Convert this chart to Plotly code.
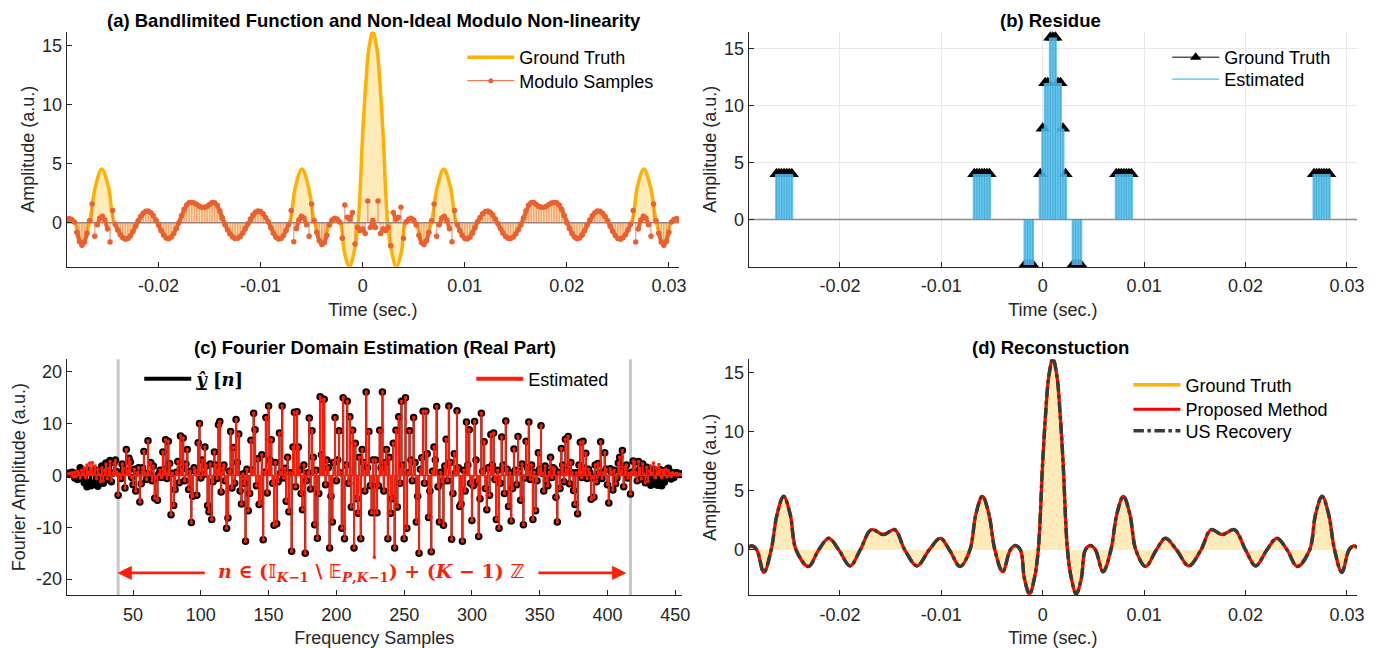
import plotly.graph_objects as go

# ============================ DATA ============================
# (a)/(d) ground-truth bandlimited function: key points read off the curve
gt_t = [-0.0290, -0.0287, -0.0282, -0.0275, -0.02678, -0.0262, -0.02555, -0.0249, -0.02432, -0.0231,
        -0.0221, -0.0211, -0.0201, -0.0190, -0.0180, -0.0169, -0.0157, -0.0146, -0.0136, -0.0124,
        -0.0112, -0.0101, -0.0092, -0.00815, -0.00718, -0.0066, -0.00595, -0.0053, -0.00472, -0.00395,
        -0.0032, -0.0027, -0.0022, -0.0018, -0.0013, -0.0008, -0.00044, 0.0, 0.0003, 0.0006,
        0.0010, 0.0014, 0.0017, 0.0020, 0.00244, 0.0028, 0.0033, 0.0038, 0.0042, 0.0047,
        0.0052, 0.00595, 0.00672, 0.0073, 0.00795, 0.0086, 0.00918, 0.01015, 0.0112, 0.0121,
        0.0132, 0.0144, 0.0156, 0.0166, 0.0177, 0.0189, 0.0200, 0.0210, 0.0221, 0.0231,
        0.0241, 0.0251, 0.02632, 0.0269, 0.02755, 0.0282, 0.02878, 0.0295, 0.0302, 0.0307, 0.0310]
gt_amp = [0.2, 0.35, 0.0, -1.9, 0.0, 3.0, 4.55, 3.0, 0.0, -1.4,
          0.0, 1.0, 0.0, -1.35, 0.0, 1.72, 1.3, 1.72, 0.0, -1.35,
          0.0, 1.0, 0.0, -1.4, 0.0, 3.0, 4.55, 3.0, 0.0, -1.85,
          0.0, 0.37, 0.0, -2.45, -3.73, -2.3, 0.0, 7.5, 11.7, 14.7,
          16.2, 14.7, 11.7, 7.5, 0.0, -2.3, -3.73, -2.45, 0.0, 0.37,
          0.0, -1.85, 0.0, 3.0, 4.55, 3.0, 0.0, -1.4, 0.0, 1.0,
          0.0, -1.35, 0.0, 1.72, 1.3, 1.72, 0.0, -1.35, 0.0, 1.0,
          0.0, -1.4, 0.0, 3.0, 4.55, 3.0, 0.0, -1.9, 0.0, 0.35, 0.2]
# (d) reconstructions coincide with the ground truth
proposed_amp = list(gt_amp)
us_amp = list(gt_amp)

# (a) modulo samples on a uniform grid
samp_t0 = -0.029
samp_dt = 0.00025
mod_samples = [
    0.25, 0.35, 0.28, 0.05, -0.81, -1.59, -1.90, -1.64, -0.89, 0.17,
    1.59, -1.15, -0.18, 0.40, 0.54, 0.22, -0.53, -1.63, 1.04, -0.14,
    -0.61, -1.01, -1.28, -1.40, -1.34, -1.11, -0.75, -0.29, 0.16, 0.52,
    0.81, 0.97, 0.99, 0.85, 0.59, 0.23, -0.20, -0.68, -1.06, -1.29,
    -1.35, -1.22, -0.92, -0.49, 0.00, 0.60, 1.14, 1.51, 1.70, 1.72,
    1.67, 1.55, 1.40, 1.31, 1.31, 1.38, 1.55, 1.71, 1.70, 1.47,
    1.01, 0.40, -0.18, -0.60, -0.95, -1.21, -1.34, -1.32, -1.17, -0.89,
    -0.52, -0.09, 0.31, 0.65, 0.89, 1.00, 0.95, 0.76, 0.45, 0.08,
    -0.43, -0.90, -1.24, -1.39, -1.34, -1.08, -0.67, -0.15, 1.03, -1.62,
    -0.52, 0.22, 0.54, 0.40, -0.18, -1.15, 1.59, 0.17, -0.81, -1.53,
    -1.84, -1.68, -1.07, -0.19, 0.22, 0.37, 0.30, 0.06, -1.31, 1.50,
    0.46, 0.30, 0.86, -1.80, -0.40, -0.67, -0.53, -0.92, 1.85, -0.40,
    0.20,
    -0.40, 1.85, -0.92, -0.53, -0.67, -0.40, -1.96, 0.86, 0.30, 0.46,
    1.31, -1.31, 0.06, 0.30, 0.37, 0.22, -0.19, -1.07, -1.68, -1.84,
    -1.53, -0.81, 0.17, 1.59, -1.15, -0.18, 0.40, 0.54, 0.22, -0.52,
    -1.62, 1.03, -0.15, -0.67, -1.08, -1.34, -1.39, -1.24, -0.90, -0.43,
    0.08, 0.45, 0.76, 0.95, 1.00, 0.89, 0.65, 0.31, -0.09, -0.52,
    -0.89, -1.17, -1.32, -1.34, -1.21, -0.95, -0.60, -0.18, 0.40, 1.01,
    1.47, 1.70, 1.71, 1.55, 1.38, 1.31, 1.31, 1.40, 1.55, 1.67,
    1.72, 1.70, 1.51, 1.14, 0.60, 0.00, -0.49, -0.92, -1.22, -1.35,
    -1.29, -1.06, -0.68, -0.20, 0.23, 0.59, 0.85, 0.99, 0.97, 0.81,
    0.52, 0.16, -0.29, -0.75, -1.11, -1.34, -1.40, -1.28, -1.01, -0.61,
    -0.14, 1.04, -1.63, -0.53, 0.22, 0.54, 0.40, -0.18, -1.15, 1.59,
    0.17, -0.89, -1.64, -1.90, -1.59, -0.81, 0.05, 0.28, 0.35, 0.25]
fold_jump = 0.8   # consecutive samples further apart than this are not joined

# (b) residue: sample indices with non-zero residue and their values
res_idx = [11, 12, 13, 14, 15, 16, 17,
           89, 90, 91, 92, 93, 94, 95,
           109, 110, 111, 112,
           115, 116, 117, 118, 119, 120, 121, 122, 123, 124, 125,
           128, 129, 130, 131,
           145, 146, 147, 148, 149, 150, 151,
           223, 224, 225, 226, 227, 228, 229]
res_true = [4, 4, 4, 4, 4, 4, 4,
            4, 4, 4, 4, 4, 4, 4,
            -4, -4, -4, -4,
            4, 8, 12, 12, 16, 16, 16, 12, 12, 8, 4,
            -4, -4, -4, -4,
            4, 4, 4, 4, 4, 4, 4,
            4, 4, 4, 4, 4, 4, 4]
res_est = list(res_true)

# (c) Fourier-domain samples n = 1..455
yhat_vals = (
    [0.3, 0.4, 0.2, 0.5, 0.6, 0.3, -0.5, 0.4, -0.8, 0.3, 1.5, -0.6, 0.9, -1.4, 0.5, -2.2, 1.0, -1.3, -2.0, 0.6] +
    [-1.7, 1.1, -0.5, -2.1, 0.8, -1.0, 1.8, -1.5, 0.4, 2.4, -0.8, 1.5, 2.9, -1.2, 0.4, 2.5, 3.0, 0.7, -3.8, 0.3] +
    [-0.6, 2.2, 1.4, -2.4, 5.0, 0.8, 3.3, 2.6, -0.4, -1.8, 1.2, -3.0, 0.5, 1.5, -5.1, -1.6, 1.5, 4.6, 0.4, -0.8] +
    [6.7, 0.2, 2.5, -1.0, 1.8, -4.4, -0.5, -4.8, 0.3, 1.0, -0.4, 4.5, 1.2, 6.9, -0.6, 6.6, 2.3, -7.6, 0.4, -5.8] +
    [-2.7, 0.6, 2.7, -1.4, 7.6, 1.2, 7.2, -1.0, 2.2, 5.0, -2.7, 0.8, -9.1, -4.0, 1.5, 1.0, -3.8, 6.3, 10.0, -0.5] +
    [3.0, 0.2, 5.5, 1.8, -5.8, -7.0, 2.2, -8.5, -1.2, 4.5, 2.0, -0.6, 9.8, 10.4, -3.2, 1.4, 2.0, -1.0, -10.2, -8.2] +
    [0.8, 8.5, -2.4, 5.4, -1.5, 10.8, 2.5, 8.0, -3.0, -5.5, 0.3, -1.5, -12.7, 1.2, -6.8, -3.5, 6.8, 1.0, 12.0, 8.8] +
    [-2.0, 3.2, -5.6, -5.4, 4.0, -12.4, 0.6, 11.2, -3.4, 13.4, 3.0, 6.9, -1.5, -9.6, 2.5, -9.3, -1.2, 8.2, 0.5, 13.4] +
    [-0.5, 1.4, -5.0, 3.5, -7.0, 0.5, -14.6, 5.5, 12.2, -2.2, 12.3, 5.5, 1.0, -3.5, -6.6, 2.0, -15.0, -1.0, 0.5, 11.1] +
    [-2.6, 8.6, 3.5, -9.5, 1.0, -12.1, -3.5, 15.2, 4.0, 14.7, 14.7, -1.8, 3.0, 1.5, -14.0, -4.0, -9.0, 2.5, 11.2, -1.0] +
    [3.0, 8.6, 0.5, -10.2, 15.0, -12.2, 2.0, 14.3, -1.5, 11.3, -6.1, 8.7, -14.0, 6.2, -4.5, -7.3, 3.5, -12.2, 5.0, 2.5] +
    [-3.0, 16.1, 1.5, 8.5, -2.0, -7.2, 3.0, -7.2, 3.0, -7.2, -2.0, 8.7, 1.5, 16.1, -3.0, 2.5, 5.0, -12.2, 3.5, -7.3] +
    [-4.5, 6.2, -14.0, 8.7, -6.1, 11.3, -1.5, 14.3, 2.0, -12.2, 15.0, -10.2, 0.5, 8.6, 3.0, -1.0, 11.2, 2.5, -9.0, -4.0] +
    [-15.0, 1.2, 3.4, 12.4, -1.5, 12.4, 4.2, -8.1, -3.0, -14.7, 0.8, 5.5, 3.0, 13.3, -2.2, -9.0, 0.6, -1.2, -9.6, 1.8] +
    [7.0, -1.0, 13.4, 2.5, -12.3, -3.5, 4.2, 0.5, 12.5, 1.5, -6.0, -5.5, -12.7, 1.0, -3.0, 10.3, 2.0, 8.8, -1.5, -8.7] +
    [-2.0, 10.4, 3.0, -1.2, -11.8, -4.5, 12.0, 0.8, 6.5, -2.5, -6.6, 1.5, -3.8, 7.9, 2.0, 8.2, -0.8, -8.5, 1.0, -10.2] +
    [-1.5, 7.4, 2.0, -3.5, 10.5, 1.2, -6.0, 0.5, -8.8, -2.5, 5.1, 1.0, -1.8, 7.5, 0.8, -4.8, 2.2, -9.5, -0.5, 6.6] +
    [1.5, 10.3, -0.8, 2.0, -8.5, 0.6, -6.8, -1.0, 4.4, 1.2, 9.6, 0.4, -3.0, 1.8, -1.0, -2.0, 0.6, 3.5, -0.4, 1.5] +
    [1.2, -4.2, -9.0, 0.6, -2.5, 5.2, 2.0, -1.2, 7.0, 1.0, 7.5, -1.6, 2.5, 0.5, -2.9, -5.6, 0.5, -7.4, 2.0, 6.4] +
    [-0.4, 6.6, 1.4, 4.3, -0.6, 1.2, 0.5, -4.6, -0.4, -4.2, 2.0, -1.2, 2.3, 0.4, 6.5, -0.6, 0.5, 4.4, 1.2, -1.8] +
    [-5.3, 1.3, 0.6, -2.8, 1.0, -1.6, -0.5, 2.4, 3.5, 0.7, 4.8, -2.2, 1.6, 2.0, -0.5, 0.4, -3.6, 0.6, 2.8, 2.6] +
    [0.5, -1.0, 2.7, 1.4, -0.7, 2.2, 0.3, -1.4, 1.6, -1.1, 0.7, -1.9, -0.4, 1.2, -1.6, 0.5, -1.9, -1.2, 1.1, -2.0] +
    [0.6, -1.3, 1.0, -0.5, 1.4, 0.2, -0.7, 0.5, -0.4, 0.3, 0.5, 0.4, 0.2, 0.3, 0.2])
# estimated values where they differ from y-hat (outside the band, and n = 228)
est_edge_left = [0.3, 0.2, 0.4, 0.1, 0.5, -0.3, 0.6, -0.2, 0.8, 0.4, -0.5, 1.0, 0.3, 1.5, -0.4, 2.0, 0.6, 2.4, 1.2, 2.5,
                 0.4, 1.8, -0.6, 1.2, 0.3, -1.2, 1.5, -1.0, 0.8, 2.2, -0.6, 1.4, 2.7, -1.0, 0.5, 2.3, 2.9, 0.6]
est_edge_right = [0.6, 2.8, 2.6, 0.5, -1.0, 2.7, 1.4, -0.7, 2.2, 0.3, -1.4, 1.6, -1.1, 0.9, 1.8, 0.4, 2.4, -0.4, 1.5, 0.6,
                  2.1, 1.1, -0.4, 1.0, 0.6, 1.2, -0.3, 0.9, 0.4, -0.2, 0.5, 0.2, 0.3, 0.4, 0.1, 0.3, 0.2, 0.2]
est_center_n = 228
est_center_val = -15.8
band_edges = [39, 417]

time_ticks = [-0.02, -0.01, 0, 0.01, 0.02, 0.03]
time_tick_text = ["-0.02", "-0.01", "0", "0.01", "0.02", "0.03"]
amp_ticks = [0, 5, 10, 15]
freq_ticks = [50, 100, 150, 200, 250, 300, 350, 400, 450]
four_ticks = [-20, -10, 0, 10, 20]
four_tick_text = ["-20", "-10", "0", "10", "20"]

assert len(yhat_vals) == 455, len(yhat_vals)
assert len(mod_samples) == 241, len(mod_samples)
assert len(gt_t) == len(gt_amp)
assert len(res_idx) == len(res_true)

# ============================ DERIVED ============================
samp_t = [round(samp_t0 + samp_dt * k, 6) for k in range(len(mod_samples))]
res_t = [samp_t[i] for i in res_idx]
n_freq = list(range(1, len(yhat_vals) + 1))
est_vals = list(yhat_vals)
est_vals[:len(est_edge_left)] = est_edge_left
est_vals[len(est_vals) - len(est_edge_right):] = est_edge_right
est_vals[est_center_n - 1] = est_center_val


def stems(x, y, base=0.0):
    xs, ys = [], []
    for xi, yi in zip(x, y):
        xs += [xi, xi, None]
        ys += [base, yi, None]
    return xs, ys


# joined runs of modulo samples (broken at fold jumps)
run_x, run_y = [], []
for i, (ti, vi) in enumerate(zip(samp_t, mod_samples)):
    if i > 0 and abs(vi - mod_samples[i - 1]) > fold_jump:
        run_x.append(None)
        run_y.append(None)
    run_x.append(ti)
    run_y.append(vi)

# ============================ STYLE ============================
FONT = "Liberation Sans, Arial, Helvetica, sans-serif"
TXT = "#262626"
GT_C = "#FFB000"
FILL_C = "rgba(255,190,40,0.32)"
MOD_C = "#EA6130"
BLUE = "rgba(77,190,238,0.85)"
RED = "#FF1E0A"
DARK = "#3A3A3A"
TICK_SIZE = 18
LAB_SIZE = 18
LEG_SIZE = 18
TITLE_SIZE = 18.5

fig = go.Figure()

# ---------------- (a) ----------------
fig.add_trace(go.Scatter(x=gt_t, y=gt_amp, mode="lines", line=dict(width=0, shape="spline"),
                         fill="tozeroy", fillcolor=FILL_C, showlegend=False,
                         xaxis="x", yaxis="y", hoverinfo="skip"))
fig.add_trace(go.Scatter(x=gt_t, y=gt_amp, mode="lines", name="Ground Truth",
                         line=dict(color=GT_C, width=3.5, shape="spline"), legend="legend",
                         xaxis="x", yaxis="y", hoverinfo="skip"))
fig.add_trace(go.Scatter(x=[samp_t[0], samp_t[-1]], y=[0, 0], mode="lines",
                         line=dict(color="#8C8C8C", width=1.5), showlegend=False,
                         xaxis="x", yaxis="y", hoverinfo="skip"))
sx, sy = stems(samp_t, mod_samples)
fig.add_trace(go.Scatter(x=sx, y=sy, mode="lines", line=dict(color="rgba(234,97,48,0.5)", width=1.6),
                         showlegend=False, xaxis="x", yaxis="y", hoverinfo="skip"))
fig.add_trace(go.Scatter(x=run_x, y=run_y, mode="lines", line=dict(color=MOD_C, width=4),
                         showlegend=False, connectgaps=False, xaxis="x", yaxis="y", hoverinfo="skip"))
fig.add_trace(go.Scatter(x=samp_t, y=mod_samples, mode="markers",
                         marker=dict(color=MOD_C, size=5.5), showlegend=False,
                         xaxis="x", yaxis="y"))
fig.add_trace(go.Scatter(x=[None], y=[None], mode="lines+markers", name="Modulo Samples",
                         line=dict(color=MOD_C, width=1), marker=dict(color=MOD_C, size=5),
                         legend="legend2", xaxis="x", yaxis="y"))

# ---------------- (b) ----------------
fig.add_trace(go.Scatter(x=[samp_t[0], samp_t[-1]], y=[0, 0], mode="lines",
                         line=dict(color="#8C8C8C", width=1.5), showlegend=False,
                         xaxis="x2", yaxis="y2", hoverinfo="skip"))
bx, by = stems(res_t, res_true)
fig.add_trace(go.Scatter(x=bx, y=by, mode="lines", line=dict(color="#000000", width=0.8),
                         showlegend=False, xaxis="x2", yaxis="y2", hoverinfo="skip"))
fig.add_trace(go.Scatter(x=res_t, y=res_true, mode="markers",
                         marker=dict(color="#000000", size=12.5, symbol="triangle-up"),
                         showlegend=False, cliponaxis=False, xaxis="x2", yaxis="y2"))
ex, ey = stems(res_t, res_est)
fig.add_trace(go.Scatter(x=ex, y=ey, mode="lines", line=dict(color=BLUE, width=3),
                         showlegend=False, xaxis="x2", yaxis="y2", hoverinfo="skip"))
fig.add_trace(go.Scatter(x=[None], y=[None], mode="lines+markers", name="Ground Truth",
                         line=dict(color="#000000", width=1),
                         marker=dict(color="#000000", size=10, symbol="triangle-up"),
                         legend="legend3", xaxis="x2", yaxis="y2"))
fig.add_trace(go.Scatter(x=[None], y=[None], mode="lines", name="Estimated",
                         line=dict(color="#4DBEEE", width=1.2),
                         legend="legend4", xaxis="x2", yaxis="y2"))

# ---------------- (c) ----------------
kx, ky = stems(n_freq, yhat_vals)
fig.add_trace(go.Scatter(x=kx, y=ky, mode="lines", line=dict(color="#000000", width=2),
                         showlegend=False, xaxis="x3", yaxis="y3", hoverinfo="skip"))
fig.add_trace(go.Scatter(x=n_freq, y=yhat_vals, mode="markers",
                         marker=dict(color="#000000", size=7.5), showlegend=False,
                         xaxis="x3", yaxis="y3"))
fig.add_trace(go.Scatter(x=[n_freq[0], n_freq[-1]], y=[0, 0], mode="lines",
                         line=dict(color=RED, width=1.5), showlegend=False,
                         xaxis="x3", yaxis="y3", hoverinfo="skip"))
rx, ry = stems(n_freq, est_vals)
fig.add_trace(go.Scatter(x=rx, y=ry, mode="lines", line=dict(color=RED, width=2),
                         showlegend=False, xaxis="x3", yaxis="y3", hoverinfo="skip"))
fig.add_trace(go.Scatter(x=n_freq, y=est_vals, mode="markers",
                         marker=dict(color=RED, size=3.5), showlegend=False,
                         xaxis="x3", yaxis="y3"))
fig.add_trace(go.Scatter(x=[None], y=[None], mode="lines",
                         name='<span style="font-family:DejaVu Serif"><b><i>ŷ̲</i> [<i>n</i>]</b></span>',
                         line=dict(color="#000000", width=4), legend="legend5",
                         xaxis="x3", yaxis="y3"))
fig.add_trace(go.Scatter(x=[None], y=[None], mode="lines", name="Estimated",
                         line=dict(color=RED, width=4), legend="legend6",
                         xaxis="x3", yaxis="y3"))

# ---------------- (d) ----------------
fig.add_trace(go.Scatter(x=gt_t, y=gt_amp, mode="lines", line=dict(width=0, shape="spline"),
                         fill="tozeroy", fillcolor=FILL_C, showlegend=False,
                         xaxis="x4", yaxis="y4", hoverinfo="skip"))
fig.add_trace(go.Scatter(x=gt_t, y=gt_amp, mode="lines", name="Ground Truth",
                         line=dict(color=GT_C, width=3.5, shape="spline"), legend="legend7",
                         xaxis="x4", yaxis="y4", hoverinfo="skip"))
fig.add_trace(go.Scatter(x=gt_t, y=proposed_amp, mode="lines", name="Proposed Method",
                         line=dict(color="#FF0000", width=3, shape="spline"), legend="legend8",
                         xaxis="x4", yaxis="y4", hoverinfo="skip"))
fig.add_trace(go.Scatter(x=gt_t, y=us_amp, mode="lines", name="US Recovery",
                         line=dict(color=DARK, width=3.5, shape="spline", dash="dashdot"),
                         legend="legend9", xaxis="x4", yaxis="y4", hoverinfo="skip"))

# ============================ LAYOUT ============================
ax_common = dict(showline=True, linecolor=TXT, linewidth=1, ticks="inside", ticklen=5,
                 tickwidth=1, tickcolor=TXT, tickfont=dict(size=TICK_SIZE, color=TXT),
                 zeroline=False, showgrid=False, mirror=False)

XA = [0.0483, 0.4921]
XB = [0.5425, 0.9834]
XC = [0.0483, 0.4942]
YTOP = [0.5884, 0.9511]
YBOT = [0.0818, 0.4455]

lab = dict(size=LAB_SIZE, color=TXT)


def leg(x, y):
    return dict(x=x, y=y, xanchor="left", yanchor="middle", bgcolor="rgba(0,0,0,0)",
                font=dict(size=LEG_SIZE, color="#000000"), itemwidth=47)


fig.update_layout(
    width=1388, height=648, margin=dict(l=0, r=0, t=0, b=0),
    paper_bgcolor="white", plot_bgcolor="white",
    font=dict(family=FONT, color=TXT, size=TICK_SIZE),
    xaxis=dict(ax_common, domain=XA, anchor="y", range=[-0.029, 0.031],
               tickvals=time_ticks, ticktext=time_tick_text, ticklabelstandoff=3,
               title=dict(text="Time (sec.)", font=lab, standoff=8)),
    yaxis=dict(ax_common, domain=YTOP, anchor="x", range=[-3.73, 16.19], tickvals=amp_ticks,
               title=dict(text="Amplitude (a.u.)", font=lab, standoff=2)),
    xaxis2=dict(ax_common, domain=XB, anchor="y2", range=[-0.029, 0.031],
                tickvals=time_ticks, ticktext=time_tick_text, showgrid=True,
                gridcolor="#E8E8E8", gridwidth=1, ticklabelstandoff=3,
                title=dict(text="Time (sec.)", font=lab, standoff=8)),
    yaxis2=dict(ax_common, domain=YTOP, anchor="x2", range=[-4.16, 16.5], tickvals=amp_ticks,
                showgrid=True, gridcolor="#E8E8E8", gridwidth=1,
                title=dict(text="Amplitude (a.u.)", font=lab, standoff=2)),
    xaxis3=dict(ax_common, domain=XC, anchor="y3", range=[1, 455], tickvals=freq_ticks,
                ticklabelstandoff=3,
                title=dict(text="Frequency Samples", font=lab, standoff=8)),
    yaxis3=dict(ax_common, domain=YBOT, anchor="x3", range=[-23.06, 22.4], tickvals=four_ticks,
                ticktext=four_tick_text,
                title=dict(text="Fourier Amplitude (a.u.)", font=lab, standoff=5)),
    xaxis4=dict(ax_common, domain=XB, anchor="y4", range=[-0.029, 0.031],
                tickvals=time_ticks, ticktext=time_tick_text, ticklabelstandoff=3,
                title=dict(text="Time (sec.)", font=lab, standoff=8)),
    yaxis4=dict(ax_common, domain=YBOT, anchor="x4", range=[-3.81, 16.13], tickvals=amp_ticks,
                title=dict(text="Amplitude (a.u.)", font=lab, standoff=2)),
    legend=leg(0.335, 0.9113),
    legend2=leg(0.335, 0.875),
    legend3=leg(0.8458, 0.9113),
    legend4=leg(0.8458, 0.8773),
    legend5=leg(0.1009, 0.4151),
    legend6=leg(0.3415, 0.4151),
    legend7=leg(0.8177, 0.4059),
    legend8=leg(0.8177, 0.3681),
    legend9=leg(0.8177, 0.3349),
    showlegend=True,
)

# vertical band edges in (c)
for e in band_edges:
    fig.add_shape(type="line", xref="x3", yref="y3 domain", x0=e, x1=e, y0=0, y1=1,
                  line=dict(color="#C8C8C8", width=3), layer="below")

# panel titles
titles = [
    ("(a) Bandlimited Function and Non-Ideal Modulo Non-linearity", 0.2709, 0.9684),
    ("(b) Residue", 0.7614, 0.9684),
    ("(c) Fourier Domain Estimation (Real Part)", 0.2716, 0.4637),
    ("(d) Reconstuction", 0.7615, 0.4637),
]
for txt, x, y in titles:
    fig.add_annotation(text="<b>" + txt + "</b>", x=x, y=y, xref="paper", yref="paper",
                       showarrow=False, xanchor="center", yanchor="middle",
                       font=dict(size=TITLE_SIZE, color="#000000", family=FONT))

# (c) index-set annotation with arrows
arrow_y = -18.8
for head, tail in [(band_edges[0] - 0.5, 104), (band_edges[1] - 3, 348)]:
    fig.add_annotation(x=head, y=arrow_y, ax=tail, ay=arrow_y,
                       xref="x3", yref="y3", axref="x3", ayref="y3", text="", showarrow=True,
                       arrowhead=2, arrowsize=1.1, arrowwidth=2.6, arrowcolor=RED,
                       font=dict(size=19, color=RED))
fig.add_annotation(x=226, y=arrow_y, xref="x3", yref="y3", showarrow=False,
                   text="<b><i>n</i> ∈ (𝕀<sub><i>K</i>−1</sub> \\ 𝔼<sub><i>P</i>,<i>K</i>−1</sub>) + (<i>K</i> − 1) ℤ</b>",
                   font=dict(size=19, color=RED, family="DejaVu Serif, DejaVu Sans, Liberation Serif, serif"))

fig.write_html("out.html")
